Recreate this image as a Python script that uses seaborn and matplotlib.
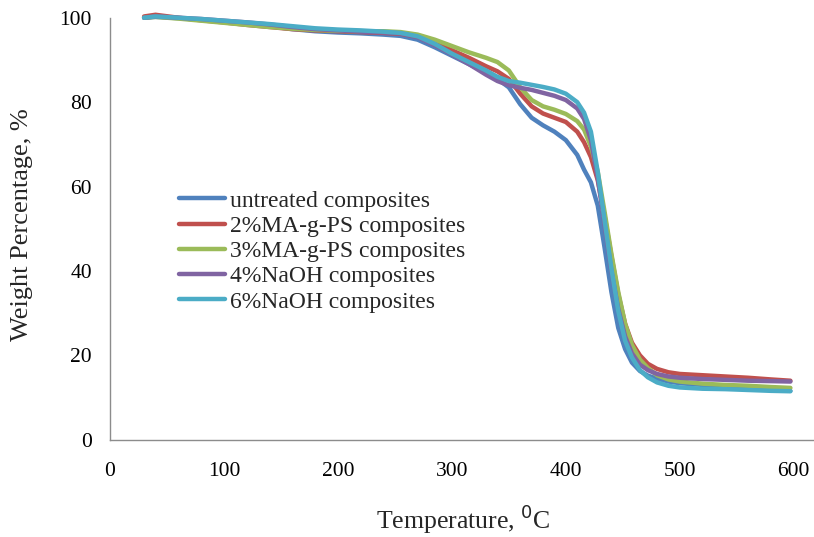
import matplotlib
matplotlib.use("Agg")
import matplotlib.pyplot as plt
import seaborn as sns
import pandas as pd

# Temperature grid (deg C) shared by all TGA runs
temperature = [30, 40, 60, 80, 100, 120, 140, 160, 180, 200, 220, 240, 255, 270,
               285, 300, 315, 330, 340, 350, 360, 370, 380, 390, 400, 410, 416,
               422, 428, 434, 440, 446, 452, 458, 465, 472, 480, 490, 500, 520,
               540, 560, 580, 597]

untreated = [100.0, 100.2, 99.9, 99.5, 99.0, 98.5, 98.0, 97.3, 96.8, 96.5, 96.3,
             96.0, 95.7, 94.8, 93.0, 91.0, 89.0, 87.0, 85.5, 83.5, 79.5, 76.3,
             74.5, 73.0, 71.0, 67.5, 64.0, 61.0, 55.5, 45.5, 35.0, 26.5, 21.5,
             18.3, 16.3, 15.2, 14.5, 13.8, 13.4, 13.0, 12.6, 12.2, 11.9, 11.6]

ma_gps_2 = [100.3, 100.7, 100.0, 99.4, 98.9, 98.3, 97.8, 97.3, 97.0, 96.8, 96.6,
            96.4, 96.2, 95.5, 94.0, 92.3, 90.5, 88.5, 87.3, 85.5, 82.0, 79.0,
            77.3, 76.3, 75.3, 73.0, 70.5, 67.0, 61.5, 53.0, 43.5, 34.5, 27.5,
            23.0, 20.0, 18.0, 16.8, 16.0, 15.6, 15.3, 15.0, 14.7, 14.3, 14.0]

ma_gps_3 = [100.0, 100.2, 99.8, 99.3, 98.8, 98.3, 97.8, 97.4, 97.1, 96.9, 96.8,
            96.8, 96.6, 96.0, 94.8, 93.3, 91.8, 90.5, 89.5, 87.5, 83.5, 80.5,
            79.0, 78.2, 77.2, 75.5, 73.5, 69.5, 63.5, 54.0, 44.0, 35.0, 27.5,
            22.5, 19.0, 17.0, 15.3, 14.3, 13.8, 13.3, 13.0, 12.8, 12.5, 12.3]

naoh_4 = [100.0, 100.3, 100.0, 99.7, 99.3, 98.9, 98.4, 97.8, 97.3, 97.0, 96.7,
          96.5, 96.3, 95.4, 93.5, 91.3, 89.0, 86.5, 85.0, 84.0, 83.4, 82.9,
          82.2, 81.5, 80.5, 78.5, 76.0, 71.0, 62.0, 51.0, 40.0, 31.0, 24.5,
          20.5, 17.8, 16.5, 15.6, 15.0, 14.7, 14.4, 14.2, 14.0, 13.9, 13.8]

naoh_6 = [100.0, 100.3, 100.0, 99.7, 99.3, 98.9, 98.5, 98.0, 97.5, 97.2, 97.0,
          96.7, 96.4, 95.6, 93.8, 91.5, 89.5, 87.5, 86.0, 85.0, 84.6, 84.1,
          83.6, 83.0, 82.0, 80.0, 77.5, 73.0, 63.5, 52.0, 40.5, 30.5, 23.5,
          19.5, 16.5, 14.8, 13.6, 12.8, 12.4, 12.1, 12.0, 11.8, 11.6, 11.5]

series_names = ["untreated composites", "2%MA-g-PS composites",
                "3%MA-g-PS composites", "4%NaOH composites", "6%NaOH composites"]
series_values = [untreated, ma_gps_2, ma_gps_3, naoh_4, naoh_6]
colors = ["#4F81BD", "#C0504D", "#9BBB59", "#8064A2", "#4BACC6"]

x_ticks = [0, 100, 200, 300, 400, 500, 600]
y_ticks = [0, 20, 40, 60, 80, 100]

rows = []
for name, vals in zip(series_names, series_values):
    for t, w in zip(temperature, vals):
        rows.append({"Temperature": t, "Weight": w, "Sample": name})
df = pd.DataFrame(rows)

sns.set_style("white")
plt.rcParams["font.family"] = ["Liberation Serif", "DejaVu Serif"]

fig = plt.figure(figsize=(8.14, 5.37), dpi=100)
ax = fig.add_axes([0.135, 0.181, 0.864, 0.786])

sns.lineplot(data=df, x="Temperature", y="Weight", hue="Sample",
             hue_order=series_names, palette=colors, linewidth=3.2,
             sort=False, ax=ax, legend=True)
for line in ax.lines:
    line.set_clip_on(False)
    line.set_solid_capstyle("round")
    line.set_solid_joinstyle("round")

ax.set_xlim(0, 617)
ax.set_ylim(0, 100)
ax.set_xticks(x_ticks)
ax.set_yticks(y_ticks)
ax.set_xlabel("")
ax.set_ylabel("")

axis_gray = "#8C8C8C"
for side in ["top", "right"]:
    ax.spines[side].set_visible(False)
for side in ["left", "bottom"]:
    ax.spines[side].set_color(axis_gray)
    ax.spines[side].set_linewidth(1.0)
ax.tick_params(axis="both", direction="out", length=6, width=1.0,
               color=axis_gray, labelcolor="black", labelsize=15.5)
ax.tick_params(axis="x", pad=10)
ax.tick_params(axis="y", pad=7)

fig.text(22 / 814, 1 - 225 / 537, "Weight Percentage, %", rotation=90,
         ha="center", va="center", fontsize=19)
fig.text(463 / 814, 1 - 519 / 537, "Temperature, $^{0}$C",
         ha="center", va="center", fontsize=18.5)

handles, labels = ax.get_legend_handles_labels()
leg = ax.legend(handles, labels, loc="upper left",
                bbox_to_anchor=(179 / 814, 1 - 190 / 537),
                bbox_transform=fig.transFigure, frameon=False, fontsize=17,
                borderpad=0, borderaxespad=0, handlelength=1.95,
                handletextpad=0.2, labelspacing=0.16)
for lh in leg.get_lines():
    lh.set_linewidth(3.2)

fig.savefig("out.png", dpi=100)
